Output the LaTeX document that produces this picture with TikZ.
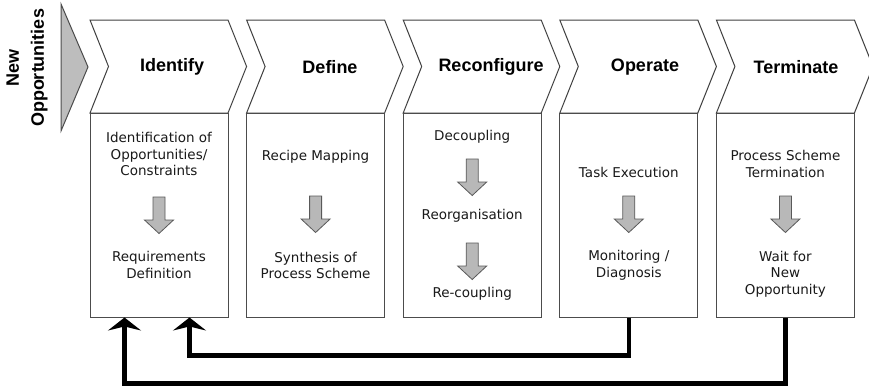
\documentclass[tikz,border=0pt]{standalone}
\usepackage{fontspec}
\usepackage{tikz}
\usetikzlibrary{arrows.meta}
\newfontfamily\headfont{Liberation Sans}
\newfontfamily\bodyfont{DejaVu Sans}

\begin{document}
\begin{tikzpicture}[x=1pt,y=-1pt,>={Stealth[length=13pt,width=33pt,inset=4pt]}]
\tikzstyle{chevron}=[draw=black!75,line width=1pt,fill=white];
\tikzstyle{stagebox}=[draw=black!70,line width=1pt,minimum width=138pt,minimum height=204pt,inner sep=0pt];
\tikzstyle{head}=[font=\headfont\bfseries\fontsize{18}{22}\selectfont];
\tikzstyle{body}=[font=\bodyfont\fontsize{13.5}{16.5}\selectfont,align=center,text=black!90];
\tikzstyle{feedback}=[->,line width=4.5pt];
\tikzset{blockarrow/.pic={
  \draw[draw=black!65,fill=black!28,line width=0.8pt] (-6,0) -- (6,0) -- (6,23) -- (14.5,23) -- (0,36.5) -- (-14.5,23) -- (-6,23) -- cycle;}}
\useasboundingbox (0,0) rectangle (869,388);
% entry triangle
    \draw[draw=black!70,fill=black!26,line width=1pt] (61,4) -- (88,67) -- (61,131) -- cycle;
    \node[font=\headfont\bfseries\fontsize{18}{25}\selectfont,align=center,rotate=90] (newopp) at (27,68) {New\\Opportunities};
% draw the stage headers
%   chevrons
    \draw[chevron] (90,20) -- ++(138,0) -- ++(18.6,46.5) -- ++(-18.6,46.5) -- ++(-138,0) -- ++(18.5,-46.5) -- cycle;
    \draw[chevron] (246.6,20) -- ++(138,0) -- ++(18.6,46.5) -- ++(-18.6,46.5) -- ++(-138,0) -- ++(18.5,-46.5) -- cycle;
    \draw[chevron] (403.2,20) -- ++(138,0) -- ++(18.6,46.5) -- ++(-18.6,46.5) -- ++(-138,0) -- ++(18.5,-46.5) -- cycle;
    \draw[chevron] (559.8,20) -- ++(138,0) -- ++(18.6,46.5) -- ++(-18.6,46.5) -- ++(-138,0) -- ++(18.5,-46.5) -- cycle;
    \draw[chevron] (716.4,20) -- ++(138,0) -- ++(18.6,46.5) -- ++(-18.6,46.5) -- ++(-138,0) -- ++(18.5,-46.5) -- cycle;
%   titles
    \node[head] (identify) at (172,67) {Identify};
    \node[head] (define) at (330,67) {Define};
    \node[head] (reconfigure) at (491,67) {Reconfigure};
    \node[head] (operate) at (645,67) {Operate};
    \node[head] (terminate) at (796,67) {Terminate};
% draw the stage boxes
    \node[stagebox] (idbox) at (159,215) {};
    \node[stagebox] (defbox) at (315.6,215) {};
    \node[stagebox] (recbox) at (472.2,215) {};
    \node[stagebox] (opbox) at (628.8,215) {};
    \node[stagebox] (termbox) at (785.4,215) {};
%   identify
    \node[body] (idtop) at (159,154) {Identification of\\Opportunities/\\Constraints};
    \pic at (159,197) {blockarrow};
    \node[body] (idbottom) at (159,265) {Requirements\\Definition};
%   define
    \node[body] (deftop) at (315.6,157) {Recipe Mapping};
    \pic at (315.6,196) {blockarrow};
    \node[body] (defbottom) at (315.6,265.5) {Synthesis of\\Process Scheme};
%   reconfigure
    \node[body] (rectop) at (472.2,137) {Decoupling};
    \pic at (472.2,159) {blockarrow};
    \node[body] (recmid) at (472.2,216) {Reorganisation};
    \pic at (472.2,243) {blockarrow};
    \node[body] (recbottom) at (472.2,294) {Re-coupling};
%   operate
    \node[body] (optop) at (628.8,172) {Task Execution};
    \pic at (628.8,196) {blockarrow};
    \node[body] (opbottom) at (628.8,265.5) {Monitoring /\\Diagnosis};
%   terminate
    \node[body] (termtop) at (785.4,164) {Process Scheme\\Termination};
    \pic at (785.4,196) {blockarrow};
    \node[body] (termbottom) at (785.4,274) {Wait for\\New\\Opportunity};
% feedback loops
    \draw[feedback] (opbox.south) -- ++(0,38) -| ([xshift=100pt]idbox.south west);
    \draw[feedback] (termbox.south) -- ++(0,66) -| ([xshift=35pt]idbox.south west);
\end{tikzpicture}
\end{document}
